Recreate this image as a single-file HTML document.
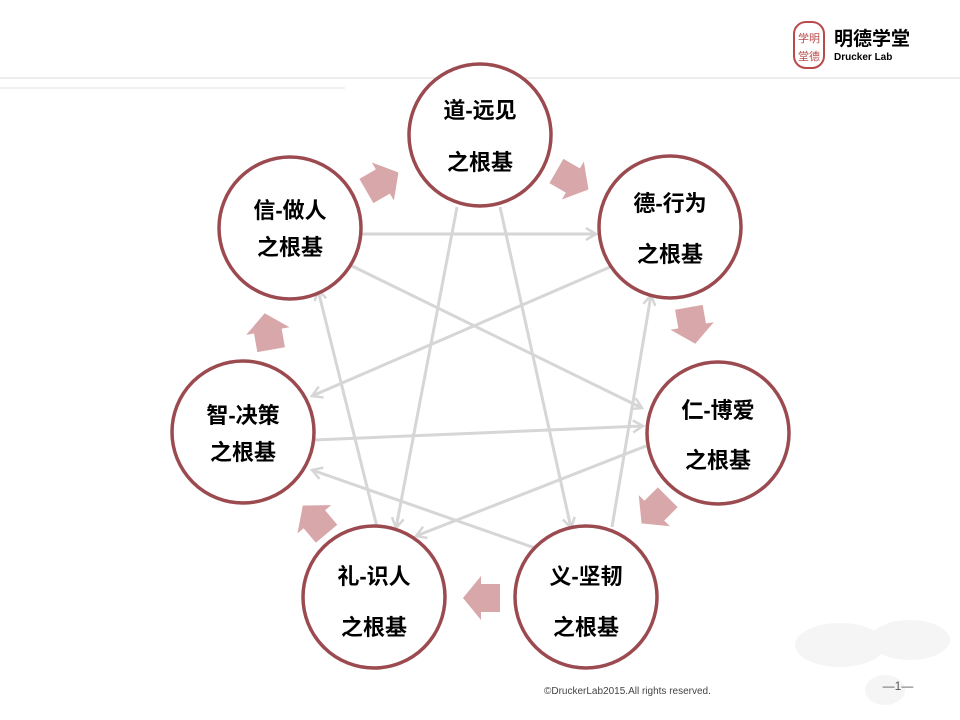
<!DOCTYPE html>
<html><head><meta charset="utf-8"><style>
body{margin:0;background:#fff;}
svg{display:block;}
text{font-family:"Liberation Sans","Noto Sans CJK SC",sans-serif;}
</style></head><body>
<svg width="960" height="720" viewBox="0 0 960 720" xmlns="http://www.w3.org/2000/svg">
<defs>
<marker id="ah" markerWidth="14" markerHeight="14" refX="11" refY="7" orient="auto" markerUnits="userSpaceOnUse">
<path d="M1,1 L11,7 L1,13" fill="none" stroke="#d6d6d6" stroke-width="2.5"/>
</marker>
<path id="ba" d="M-18,-14 L1,-14 L1,-22 L19,0 L1,22 L1,14 L-18,14 Z" fill="#d8a7aa"/>
</defs>
<line x1="0" y1="78" x2="960" y2="78" stroke="#ececec" stroke-width="2"/>
<line x1="0" y1="88" x2="345" y2="88" stroke="#f0f0f0" stroke-width="2"/>
<!-- logo -->
<rect x="794" y="22" width="30" height="46" rx="12" fill="#fff" stroke="#b94a4a" stroke-width="2"/>
<text x="809" y="42" font-size="11" fill="#b94a4a" text-anchor="middle">学明</text>
<text x="809" y="60" font-size="11" fill="#b94a4a" text-anchor="middle">堂德</text>
<text x="834" y="45" font-size="19" font-weight="bold" fill="#000">明德学堂</text>
<text x="834" y="60" font-size="10" font-weight="bold" fill="#000">Drucker Lab</text>
<!-- world map hint -->
<g fill="#f5f5f5">
<ellipse cx="840" cy="645" rx="45" ry="22"/><ellipse cx="910" cy="640" rx="40" ry="20"/><ellipse cx="885" cy="690" rx="20" ry="15"/>
</g>
<!-- gray connectors -->
<g stroke="#d6d6d6" stroke-width="3" marker-end="url(#ah)" fill="none">
<line x1="362" y1="234" x2="596" y2="234"/>
<line x1="350" y1="265" x2="642" y2="408"/>
<line x1="457" y1="207" x2="396" y2="528"/>
<line x1="500" y1="207" x2="571" y2="528"/>
<line x1="610" y1="267" x2="312" y2="396"/>
<line x1="612" y1="527" x2="651" y2="295"/>
<line x1="314" y1="440" x2="643" y2="426"/>
<line x1="646" y1="446" x2="416" y2="536"/>
<line x1="535" y1="548" x2="312" y2="470"/>
<line x1="377" y1="527" x2="318" y2="290"/>
</g>
<!-- block arrows -->
<use href="#ba" transform="translate(382,182) rotate(-30)"/>
<use href="#ba" transform="translate(572,180) rotate(30)"/>
<use href="#ba" transform="translate(692,325) rotate(80)"/>
<use href="#ba" transform="translate(655,510) rotate(135)"/>
<use href="#ba" transform="translate(482,598) rotate(180)"/>
<use href="#ba" transform="translate(315,520) rotate(-130)"/>
<use href="#ba" transform="translate(268,332) rotate(-100)"/>
<!-- circles -->
<g fill="#fff" stroke="#9b4a50" stroke-width="3.5">
<circle cx="480" cy="135" r="71"/>
<circle cx="290" cy="228" r="71"/>
<circle cx="670" cy="227" r="71"/>
<circle cx="243" cy="432" r="71"/>
<circle cx="718" cy="433" r="71"/>
<circle cx="374" cy="597" r="71"/>
<circle cx="586" cy="597" r="71"/>
</g>
<g font-size="22" font-weight="bold" fill="#000" text-anchor="middle">
<text x="480" y="118">道-远见</text><text x="480" y="170">之根基</text>
<text x="290" y="218">信-做人</text><text x="290" y="255">之根基</text>
<text x="670" y="211">德-行为</text><text x="670" y="262">之根基</text>
<text x="243" y="423">智-决策</text><text x="243" y="460">之根基</text>
<text x="718" y="418">仁-博爱</text><text x="718" y="468">之根基</text>
<text x="374" y="584">礼-识人</text><text x="374" y="635">之根基</text>
<text x="586" y="584">义-坚韧</text><text x="586" y="635">之根基</text>
</g>
<text x="544" y="694" font-size="10" fill="#444">©DruckerLab2015.All rights reserved.</text>
<text x="898" y="690" font-size="12" fill="#555" text-anchor="middle">—1—</text>
</svg>
</body></html>
